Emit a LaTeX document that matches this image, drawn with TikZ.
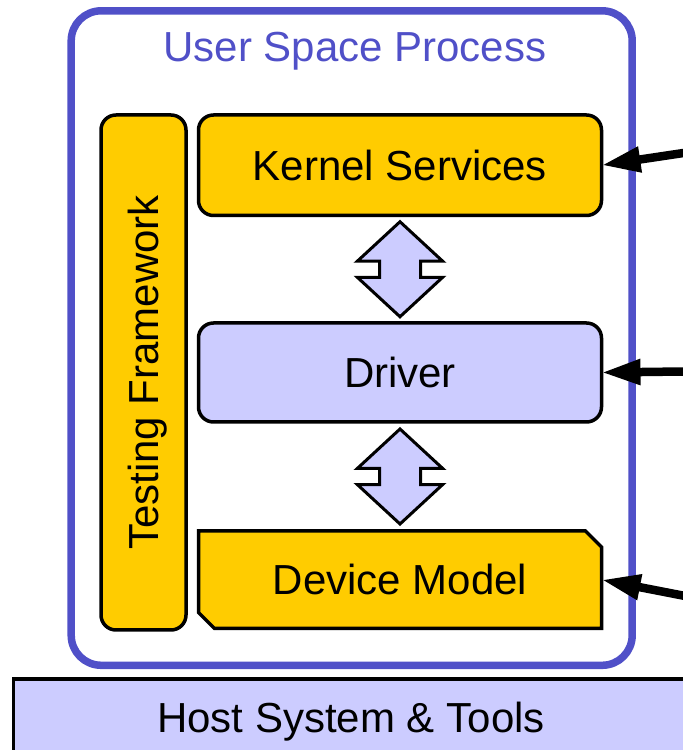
\documentclass[tikz,border=0pt]{standalone}
\usepackage{fontspec}
\setmainfont{Liberation Sans}
\usetikzlibrary{arrows.meta,calc}
\definecolor{procblue}{RGB}{80,80,200}
\definecolor{compyellow}{RGB}{255,204,0}
\definecolor{complav}{RGB}{204,204,255}
\begin{document}
\begin{tikzpicture}[x=1pt,y=1pt,
  every node/.style={font=\fontsize{42}{50}\selectfont, inner sep=0pt, outer sep=0pt},
  comp/.style={draw=black, line width=3.5pt, rounded corners=15pt,
               minimum width=403pt, minimum height=97.5pt},
  dblarrow/.style={draw=black, fill=complav, line width=3pt, line join=miter},
  feed/.style={line width=8.5pt, -{Triangle[length=39pt,width=24pt]}},
]
\path[use as bounding box, clip] (0,0) rectangle (683,750);

% user space process frame
\draw[procblue, line width=7.5pt, rounded corners=30pt]
  (71.2,84.7) rectangle (632.2,739.2);
\node[text=procblue, anchor=base] (title) at (355,688) {User Space Process};

% testing framework column
\node[comp, fill=compyellow, rotate=90, minimum width=515pt, minimum height=85pt,
      text depth=0pt] (tf) at (143.5,377.5) {Testing Framework};

% component boxes
\node[comp, fill=compyellow, minimum height=100.5pt] (ks) at (400,584.75) {Kernel Services};
\node[comp, fill=complav, minimum height=99pt] (drv) at (400,377.5) {Driver};
\node[minimum width=403pt, minimum height=97.5pt] (dm) at (400,170.25) {};
\filldraw[fill=compyellow, draw=black, line width=3.5pt, line join=miter]
  (dm.north west) -- ($(dm.north east)+(-16,0)$) -- ($(dm.north east)+(0,-16)$)
  -- (dm.south east) -- ($(dm.south west)+(16,0)$) -- ($(dm.south west)+(0,16)$)
  -- cycle;
\node (dmlabel) at (dm.center) {Device Model};

% two-way arrows between the layers
\foreach \a/\b [count=\i] in {ks/drv, drv/dm} {
  \coordinate (mid\i) at ($(\a.south)!0.5!(\b.north)$);
  \draw[dblarrow, shift={(mid\i)}]
    (0,47.5) -- (42.5,8.2) -- (20.5,8.2) -- (20.5,-8.2) -- (42.5,-8.2)
    -- (0,-47.5) -- (-42.5,-8.2) -- (-20.5,-8.2) -- (-20.5,8.2) -- (-42.5,8.2)
    -- cycle;
}

% host system bar
\draw[fill=complav, draw=black, line width=3.5pt] (13.5,-20) rectangle (720,71);
\node[anchor=base] (host) at (351,17.7) {Host System \& Tools};

% incoming connections from the right
\coordinate (srcks) at ($(ks.east)+(8.5:200)$);
\coordinate (srcdrv) at ($(drv.east)+(0.7:200)$);
\coordinate (srcdm) at ($(dm.east)+(-11:200)$);
\draw[feed] (srcks) -- (ks.east);
\draw[feed] (srcdrv) -- (drv.east);
\draw[feed] (srcdm) -- (dm.east);
\end{tikzpicture}
\end{document}
